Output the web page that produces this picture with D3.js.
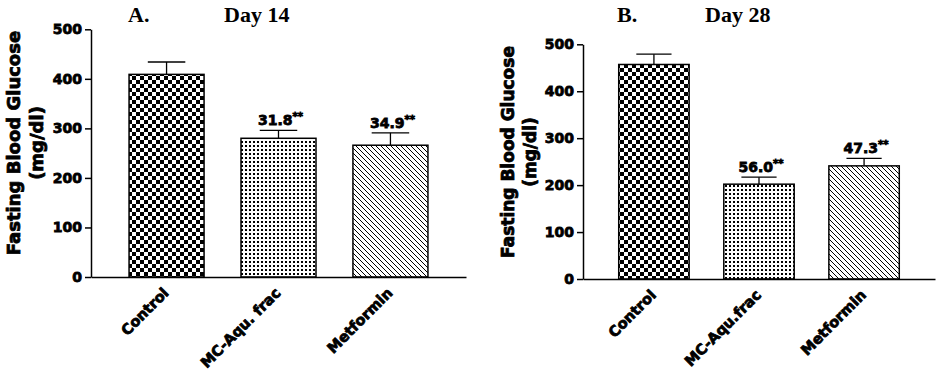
<!DOCTYPE html>
<head>
  <meta charset="utf-8">
  <script src="https://cdn.jsdelivr.net/npm/d3@7"></script>
</head>

<style>
  body { margin: 0; background: #fff; }
  text { fill: #000; }
  .sans { font-family: "DejaVu Sans", sans-serif; font-weight: bold; stroke: #000; stroke-width: 0.8px; }
  .serif { font-family: "Liberation Serif", "Times New Roman", serif; font-weight: bold; }
</style>
<body>
<script>

// data
var day14Groups = ["Control", "MC-Aqu. frac", "Metformin"];
var day14Mean = [409, 280, 266];
var day14Err = [25, 16, 25];
var day14Pct = [null, "31.8", "34.9"];

var day28Groups = ["Control", "MC-Aqu.frac", "Metformin"];
var day28Mean = [457, 202, 241];
var day28Err = [22, 15, 16];
var day28Pct = [null, "56.0", "47.3"];

var yTicks = [0, 100, 200, 300, 400, 500];
var fills = ["url(#checker)", "url(#dots)", "url(#hatch)"];

var width = 937, height = 372;

var svg = d3.select("body").append("svg")
    .attr("width", width)
    .attr("height", height);

var defs = svg.append("defs");

// checkerboard
var chk = defs.append("pattern")
    .attr("id", "checker")
    .attr("patternUnits", "userSpaceOnUse")
    .attr("width", 8).attr("height", 8);
chk.append("rect").attr("width", 8).attr("height", 8).attr("fill", "#fff");
chk.append("rect").attr("width", 4).attr("height", 4).attr("fill", "#000");
chk.append("rect").attr("x", 4).attr("y", 4).attr("width", 4).attr("height", 4).attr("fill", "#000");

// dotted grid
var dots = defs.append("pattern")
    .attr("id", "dots")
    .attr("patternUnits", "userSpaceOnUse")
    .attr("width", 4).attr("height", 4);
dots.append("rect").attr("width", 4).attr("height", 4).attr("fill", "#fff");
dots.append("rect").attr("x", 1).attr("y", 1).attr("width", 2).attr("height", 2).attr("fill", "#000");

// diagonal hatch "\\\"
var hatch = defs.append("pattern")
    .attr("id", "hatch")
    .attr("patternUnits", "userSpaceOnUse")
    .attr("width", 5).attr("height", 5);
hatch.append("rect").attr("width", 5).attr("height", 5).attr("fill", "#fff");
hatch.append("path")
    .attr("d", "M-1,-1L6,6M-1,4L1,6M4,-1L6,1")
    .attr("stroke", "#000").attr("stroke-width", 1);

function drawPanel(p) {
  var y = d3.scaleLinear().domain([0, 500]).range([p.y0, p.y1]);
  var x = d3.scaleBand().domain(p.groups).range([p.x0, p.x1])
      .paddingInner(0.33).paddingOuter(0.34);

  var rows = p.groups.map(function(name, i) {
    return {name: name, mean: p.mean[i], err: p.err[i], pct: p.pct[i], fill: fills[i]};
  });
  function cx(d) { return x(d.name) + x.bandwidth() / 2; }

  var g = svg.append("g");

  // titles
  g.append("text").attr("class", "serif")
      .attr("x", p.titleX[0]).attr("y", 22)
      .style("font-size", "22px").text(p.letter);
  g.append("text").attr("class", "serif")
      .attr("x", p.titleX[1]).attr("y", 22)
      .style("font-size", "22px").text(p.title);

  // y axis label
  g.append("text").attr("class", "sans")
      .attr("transform", "translate(" + p.labX[0] + "," + p.labY + ") rotate(-90)")
      .attr("text-anchor", "middle")
      .style("font-size", p.labSize + "px")
      .text("Fasting Blood Glucose");
  g.append("text").attr("class", "sans")
      .attr("transform", "translate(" + p.labX[1] + "," + p.labY + ") rotate(-90)")
      .attr("text-anchor", "middle")
      .style("font-size", p.labSize + "px")
      .text("(mg/dl)");

  // bars
  g.selectAll(".bar")
      .data(rows)
    .enter().append("rect")
      .attr("class", "bar")
      .attr("x", function(d) { return x(d.name); })
      .attr("y", function(d) { return y(d.mean); })
      .attr("width", x.bandwidth())
      .attr("height", function(d) { return y(0) - y(d.mean); })
      .attr("fill", function(d) { return d.fill; })
      .attr("stroke", "#000")
      .attr("stroke-width", 1.5);

  // error bars
  var cap = x.bandwidth() * 0.25;
  var eb = g.selectAll(".err")
      .data(rows)
    .enter().append("g")
      .attr("class", "err")
      .attr("stroke", "#000")
      .attr("stroke-width", 1.3);
  eb.append("line")
      .attr("x1", cx).attr("x2", cx)
      .attr("y1", function(d) { return y(d.mean); })
      .attr("y2", function(d) { return y(d.mean + d.err); });
  eb.append("line")
      .attr("x1", function(d) { return cx(d) - cap; })
      .attr("x2", function(d) { return cx(d) + cap; })
      .attr("y1", function(d) { return y(d.mean + d.err); })
      .attr("y2", function(d) { return y(d.mean + d.err); });

  // percentage labels
  var pct = g.selectAll(".pct")
      .data(rows.filter(function(d) { return d.pct; }))
    .enter().append("text")
      .attr("class", "sans pct")
      .attr("text-anchor", "middle")
      .attr("x", function(d) { return cx(d) + 2; })
      .attr("y", function(d) { return y(d.mean + d.err) - 5; })
      .style("font-size", "14px");
  pct.append("tspan").text(function(d) { return d.pct; });
  pct.append("tspan").attr("dy", -5).style("font-size", "10px").text("**");

  // y axis
  var yAxis = g.append("g")
      .attr("transform", "translate(" + p.x0 + ",0)")
      .call(d3.axisLeft(y).tickValues(yTicks).tickSize(6).tickSizeOuter(0).tickPadding(3));
  yAxis.selectAll("path, line").attr("stroke", "#000").attr("stroke-width", 1.5);
  yAxis.selectAll("text").attr("class", "sans").style("font-size", "14px")
      .attr("fill", "#000");

  // x axis
  var xAxis = g.append("g")
      .attr("transform", "translate(0," + y(0) + ")")
      .call(d3.axisBottom(x).tickSize(0).tickSizeOuter(0));
  xAxis.select(".domain").attr("stroke", "#000").attr("stroke-width", 1.5);
  xAxis.selectAll("text")
      .attr("class", "sans")
      .attr("fill", "#000")
      .style("font-size", "14.5px")
      .attr("text-anchor", "end")
      .attr("dy", null)
      .attr("y", 0)
      .attr("transform", "translate(3,17) rotate(-45)");
}

drawPanel({
  groups: day14Groups, mean: day14Mean, err: day14Err, pct: day14Pct,
  x0: 91, x1: 466, y0: 277, y1: 29.3,
  letter: "A.", title: "Day 14", titleX: [128, 224],
  labX: [20, 43], labY: 143, labSize: 18
});

drawPanel({
  groups: day28Groups, mean: day28Mean, err: day28Err, pct: day28Pct,
  x0: 583, x1: 935, y0: 279, y1: 44.3,
  letter: "B.", title: "Day 28", titleX: [617, 705],
  labX: [514, 536], labY: 152, labSize: 17
});

</script>
</body>
